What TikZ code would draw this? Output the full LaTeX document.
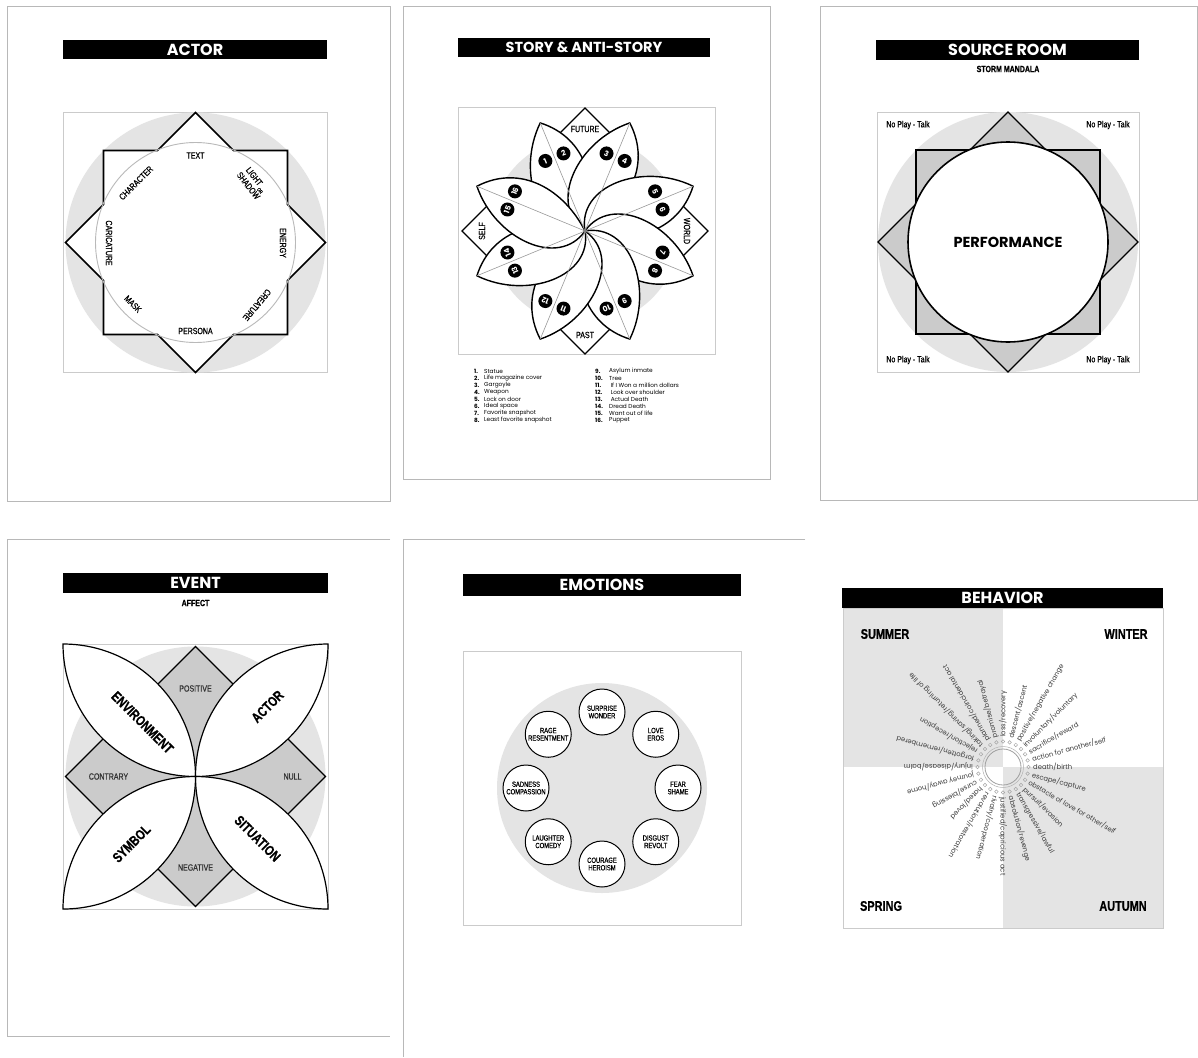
\documentclass[tikz,border=0pt]{standalone}
\usepackage{fontspec}
\setmainfont{Poppins}
\newfontfamily\cond[FakeStretch=0.78,FakeBold=0.6]{Liberation Sans}
\newfontfamily\geo{Poppins}
\usetikzlibrary{calc}
\definecolor{lg}{HTML}{E4E4E4}
\definecolor{mg}{HTML}{CBCBCB}
\definecolor{bord}{HTML}{B8B8B8}
\definecolor{txg}{HTML}{3A3A3A}
\tikzset{
  panel/.style={draw=bord,line width=1pt},
  ibox/.style={draw=mg,line width=1pt},
  tbar/.style={fill=black,text=white,inner sep=0pt,font=\geo\bfseries\fontsize{16}{16}\selectfont},
  outl/.style={draw=black,line width=1.4pt,line join=miter},
  lab/.style={font=\cond\fontsize{9}{9}\selectfont,inner sep=0pt,align=center},
  blab/.style={font=\cond\bfseries\fontsize{14}{14}\selectfont,inner sep=0pt},
  numc/.style={circle,fill=black,text=white,minimum size=14pt,inner sep=0pt,font=\geo\bfseries\fontsize{7.5}{7.5}\selectfont},
  emo/.style={circle,draw=black,line width=1pt,fill=white,minimum size=46pt,inner sep=0pt,align=center,font=\cond\fontsize{7.5}{7.5}\selectfont},
  spoke/.style={anchor=west,inner sep=0pt,text=txg,font=\geo\fontsize{6.8}{6.8}\selectfont},
  leg/.style={anchor=west,inner sep=0pt,font=\geo\fontsize{5.8}{6}\selectfont},
}
\begin{document}
\begin{tikzpicture}[x=1pt,y=-1pt]
\useasboundingbox (0,0) rectangle (1198,1057);
\fill[white] (0,0) rectangle (1198,1057);

% ---------------- panels
\draw[panel] (7,7) rectangle (390,501);
\draw[panel] (403,7) rectangle (770,479);
\draw[panel] (820,7) rectangle (1197,500);
\draw[panel] (390,539) -- (7,539) -- (7,1036) -- (390,1036);
\draw[panel] (805,539) -- (403,539) -- (403,1057);

% ================= ACTOR
\node[tbar,minimum width=264pt,minimum height=19pt] (tActor) at (195,49.5) {ACTOR};
\draw[ibox] (63,112) rectangle (327,372);
\begin{scope}[shift={(195.5,242.5)}]
  \fill[lg] (0,0) circle[radius=130];
  \draw[outl,line width=1.7pt,fill=white] (0,-130) -- (38,-92) -- (92,-92) -- (92,-38) -- (130,0) -- (92,38) -- (92,92) -- (38,92) -- (0,130) -- (-38,92) -- (-92,92) -- (-92,38) -- (-130,0) -- (-92,-38) -- (-92,-92) -- (-38,-92) -- cycle;
  \draw[gray!55,line width=0.9pt] (0,0) circle[radius=100];
  \node[lab] (aText) at (0,-87) {TEXT};
  \node[lab,rotate=-52] (aLight) at (57,-60) {LIGHT\,{\fontsize{5}{5}\selectfont\raisebox{-3pt}{OR}}\\SHADOW};
  \node[lab,rotate=-90] (aEnergy) at (87.5,0.5) {ENERGY};
  \node[lab,rotate=-130] (aCreature) at (61.5,62.5) {CREATURE};
  \node[lab] (aPersona) at (0,88.5) {PERSONA};
  \node[lab,rotate=-45] (aMask) at (-62.5,61.5) {MASK};
  \node[lab,rotate=-90] (aCaric) at (-86.5,0.5) {CARICATURE};
  \node[lab,rotate=45] (aChar) at (-59.5,-59.5) {CHARACTER};
\end{scope}

% ================= STORY & ANTI-STORY
\node[tbar,minimum width=252pt,minimum height=19pt,font=\geo\bfseries\fontsize{14.5}{14.5}\selectfont] (tStory) at (584,47.5) {STORY \& ANTI-STORY};
\draw[ibox] (458,107) rectangle (715,354);
\begin{scope}[shift={(585,231)}]
  \fill[lg] (0,0) circle[radius=95];
  \foreach \cx/\cy in {0/-83,0/83,-83/0,83/0}
    \draw[outl,line width=1.3pt,fill=white] ({\cx},{\cy-40}) -- ({\cx+40},{\cy}) -- ({\cx},{\cy+40}) -- ({\cx-40},{\cy}) -- cycle;
  \node[lab] (sFuture) at (0,-102) {FUTURE};
  \node[lab] (sPast) at (0,104) {PAST};
  \node[lab,rotate=90] (sSelf) at (-103,0) {SELF};
  \node[lab,rotate=-90] (sWorld) at (102,0) {WORLD};
  \foreach \k in {0,...,7}{
    \pgfmathsetmacro\a{mod(472.5-45*\k,360)}
    \begin{scope}[rotate=\a,y=1pt]
      \draw[outl,line width=1.4pt,fill=white] (0,0) .. controls (10,45) and (80,42) .. (117,0) .. controls (85,-38) and (35,-30) .. (0,0) -- cycle;
    \end{scope}
  }
  \foreach \k in {0,...,7}{
    \pgfmathsetmacro\a{mod(472.5-45*\k,360)}
    \draw[gray!80,line width=0.6pt] (0,0) -- (-\a:117);
  }
  \fill[gray] (0,0) circle[radius=2];
  \foreach \k in {0,...,7}{
    \pgfmathsetmacro\a{mod(472.5-45*\k,360)}
    \pgfmathtruncatemacro\na{2*\k+1}
    \pgfmathtruncatemacro\nb{2*\k+2}
    \node[numc,rotate=\a-90] (s\na) at (-\a-7:80.5) {\na};
    \node[numc,rotate=\a-90] (s\nb) at (-\a+7:80.5) {\nb};
  }
\end{scope}
\foreach \t [count=\i] in {Statue,Life magazine cover,Gargoyle,Weapon,Lock on door,Ideal space,Favorite snapshot,Least favorite snapshot}{
  \node[leg,font=\geo\bfseries\fontsize{5.8}{6}\selectfont] (ln\i) at (474,{364.5+7*\i}) {\i.};
  \node[leg] (lt\i) at (484,{364.5+7*\i}) {\t};
}
\foreach \t [count=\i from 9] in {Asylum inmate,Tree,{\ If I Won a million dollars},{\ Look over shoulder},{\ Actual Death},Dread Death,Want out of life,Puppet}{
  \node[leg,font=\geo\bfseries\fontsize{5.8}{6}\selectfont] (ln\i) at (595,{364.5+7*(\i-8)}) {\i.};
  \node[leg] (lt\i) at (609,{364.5+7*(\i-8)}) {\t};
}

% ================= SOURCE ROOM
\node[tbar,minimum width=263pt,minimum height=20pt] (tSource) at (1007.5,50) {SOURCE ROOM};
\node[font=\cond\bfseries\fontsize{9}{9}\selectfont] (tStorm) at (1008,69) {STORM MANDALA};
\draw[ibox] (877,112) rectangle (1139,372);
\begin{scope}[shift={(1008,242)}]
  \fill[lg] (0,0) circle[radius=130];
  \draw[outl,line width=1.3pt,fill=mg] (0,-130) -- (130,0) -- (0,130) -- (-130,0) -- cycle;
  \draw[outl,line width=1.3pt,fill=mg] (-92,-92) rectangle (92,92);
  \draw[outl,line width=1.6pt,fill=white] (0,0) circle[radius=100];
  \node[font=\geo\bfseries\fontsize{14.5}{14.5}\selectfont] (perf) at (0,0) {PERFORMANCE};
\end{scope}
\node[lab] (np1) at (908,125) {No Play - Talk};
\node[lab] (np2) at (1108,125) {No Play - Talk};
\node[lab] (np3) at (908,360) {No Play - Talk};
\node[lab] (np4) at (1108,360) {No Play - Talk};

% ================= EVENT
\node[tbar,minimum width=265pt,minimum height=20pt] (tEvent) at (195.5,583) {EVENT};
\node[font=\cond\bfseries\fontsize{9}{9}\selectfont] (tAffect) at (195.5,603) {AFFECT};
\draw[ibox] (63,644) rectangle (328,909);
\begin{scope}[shift={(195.5,776.5)}]
  \fill[lg] (0,0) circle[radius=130];
  \draw[outl,line width=1.2pt,fill=mg] (0,-130) -- (130,0) -- (0,130) -- (-130,0) -- cycle;
  \foreach \sx/\sy in {-1/-1,1/-1,1/1,-1/1}
    \draw[outl,line width=1.2pt,fill=white] (0,0) .. controls (0,{\sy*73.2}) and ({\sx*59.3},{\sy*132.5}) .. ({\sx*132.5},{\sy*132.5}) .. controls ({\sx*132.5},{\sy*59.3}) and ({\sx*73.2},0) .. (0,0) -- cycle;
  \node[blab,rotate=-45] (eEnv) at (-53,-54) {ENVIRONMENT};
  \node[blab,rotate=45] (eActor) at (72,-70) {ACTOR};
  \node[blab,rotate=45] (eSymbol) at (-64,67) {SYMBOL};
  \node[blab,rotate=-45] (eSit) at (62,62) {SITUATION};
  \node[lab,text=black!80] (ePos) at (0,-88) {POSITIVE};
  \node[lab,text=black!80] (eCon) at (-87,0) {CONTRARY};
  \node[lab,text=black!80] (eNull) at (97,0) {NULL};
  \node[lab,text=black!80] (eNeg) at (0,91) {NEGATIVE};
\end{scope}

% ================= EMOTIONS
\node[tbar,minimum width=278pt,minimum height=22pt] (tEmo) at (602,585) {EMOTIONS};
\draw[ibox] (463,651) rectangle (741,925);
\begin{scope}[shift={(602,788)}]
  \fill[lg] (0,0) circle[radius=105];
  \node[emo] (m1) at (-90:76) {SURPRISE\\WONDER};
  \node[emo] (m2) at (-45:76) {LOVE\\EROS};
  \node[emo] (m3) at (0:76) {FEAR\\SHAME};
  \node[emo] (m4) at (45:76) {DISGUST\\REVOLT};
  \node[emo] (m5) at (90:76) {COURAGE\\HEROISM};
  \node[emo] (m6) at (135:76) {LAUGHTER\\COMEDY};
  \node[emo] (m7) at (180:76) {SADNESS\\COMPASSION};
  \node[emo] (m8) at (225:76) {RAGE\\RESENTMENT};
\end{scope}

% ================= BEHAVIOR
\fill[lg] (843,608) rectangle (1003,767);
\fill[lg] (1003,767) rectangle (1163,928);
\draw[ibox] (843,608) rectangle (1163,928);
\node[tbar,minimum width=321pt,minimum height=20pt] (tBeh) at (1002.5,598) {BEHAVIOR};
\node[blab] (bSum) at (885,634) {SUMMER};
\node[blab] (bWin) at (1126,634) {WINTER};
\node[blab] (bSpr) at (881,906) {SPRING};
\node[blab] (bAut) at (1123,906) {AUTUMN};
\begin{scope}[shift={(1003,767)}]
  \draw[gray!75,line width=0.8pt] (0,0) circle[radius=18];
  \draw[gray!60,line width=0.5pt] (0,0) circle[radius=20.5];
  \foreach \ang/\txt [count=\i] in {0/{death/birth},345/{escape/capture},330/{obstacle of love for other/self},315/{pursuit/evasion},300/{transgressive/lawful},285/{absolution/revenge},270/{justified/capricious act},255/{rivalry/cooperation},240/{revolution/restoration},225/{hated/loved},210/{curse/blessing},195/{journey away/home},180/{injury/disease/balm},165/{forgotten/remembered},150/{rejection/reception},135/{taking/saving/returning of life},120/{planned/coincidental act},105/{promise/betrayal},90/{loss/recovery},75/{descent/ascent},60/{positive/negative change},45/{involuntary/voluntary},30/{sacrifice/reward},15/{action for another/self}}{
    \draw[gray!70,line width=0.5pt] (360-\ang:25.5) circle[radius=1.8];
    \node[spoke,rotate=\ang] (bl\i) at (360-\ang:30) {\txt};
  }
\end{scope}
\end{tikzpicture}
\end{document}
